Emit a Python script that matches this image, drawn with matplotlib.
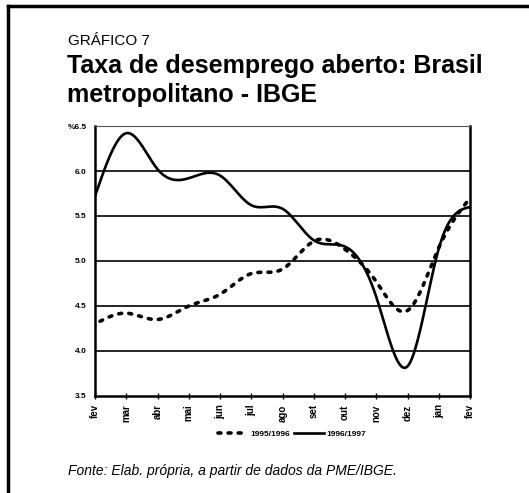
import numpy as np
import matplotlib
matplotlib.use('Agg')
import matplotlib.pyplot as plt
from matplotlib.lines import Line2D

plt.rcParams['font.family'] = ['Liberation Sans', 'DejaVu Sans']

months = ['fev', 'mar', 'abr', 'mai', 'jun', 'jul', 'ago', 'set', 'out',
          'nov', 'dez', 'jan', 'fev']
serie_9596 = [4.30, 4.42, 4.35, 4.50, 4.63, 4.86, 4.91, 5.22, 5.13, 4.77,
              4.45, 5.15, 5.70]
serie_9697 = [5.72, 6.42, 6.02, 5.92, 5.95, 5.62, 5.58, 5.23, 5.16, 4.60,
              3.83, 5.14, 5.60]
yticks = [3.5, 4.0, 4.5, 5.0, 5.5, 6.0, 6.5]
ylabels = ['3.5', '4.0', '4.5', '5.0', '5.5', '6.0', '%6.5']


def smooth(x, y, n=300):
    # natural cubic spline, like a "smoothed line" in a spreadsheet
    x = np.asarray(x, float)
    y = np.asarray(y, float)
    k = len(x)
    h = np.diff(x)
    A = np.zeros((k, k))
    b = np.zeros(k)
    A[0, 0] = A[-1, -1] = 1.0
    for i in range(1, k - 1):
        A[i, i - 1] = h[i - 1]
        A[i, i] = 2 * (h[i - 1] + h[i])
        A[i, i + 1] = h[i]
        b[i] = 6 * ((y[i + 1] - y[i]) / h[i] - (y[i] - y[i - 1]) / h[i - 1])
    M = np.linalg.solve(A, b)
    xs = np.linspace(x[0], x[-1], n)
    j = np.clip(np.searchsorted(x, xs) - 1, 0, k - 2)
    t0 = x[j + 1] - xs
    t1 = xs - x[j]
    hj = h[j]
    ys = (M[j] * t0 ** 3 + M[j + 1] * t1 ** 3) / (6 * hj) \
        + (y[j] / hj - M[j] * hj / 6) * t0 + (y[j + 1] / hj - M[j + 1] * hj / 6) * t1
    return xs, ys


fig = plt.figure(figsize=(5.29, 4.93), dpi=100)
ax = fig.add_axes([0.1796, 0.1968, 0.709, 0.5476])

x = np.arange(len(months))
xs, ys = smooth(x, serie_9596)
ax.plot(xs[4:], ys[4:], color='k', lw=2.6, ls=(0, (0.8, 2.0)),
        dash_capstyle='round', label='1995/1996')
xs, ys = smooth(x, serie_9697)
ax.plot(xs, ys, color='k', lw=1.9, label='1996/1997')

for v in yticks[1:-1]:
    ax.axhline(v, color='k', lw=1.2, zorder=0)

ax.set_xlim(0, len(months) - 1)
ax.set_ylim(3.5, 6.5)
ax.set_yticks(yticks)
ax.set_yticklabels(ylabels, fontsize=6, fontweight='bold')
ax.set_xticks(x)
ax.set_xticklabels(months, rotation=90, fontsize=7, fontweight='bold')
ax.tick_params(axis='y', length=0, pad=6)
ax.tick_params(axis='x', direction='inout', length=4, width=1, pad=4)

for s in ['left', 'right', 'bottom']:
    ax.spines[s].set_linewidth(1.8)
ax.spines['top'].set_linewidth(0.8)
ax.spines['top'].set_color('#555555')

fig.legend(loc='center', bbox_to_anchor=(292 / 529, 1 - 434 / 493), ncol=2,
           frameon=False, prop={'size': 6, 'weight': 'bold'},
           handlelength=3.6, handletextpad=0.3, columnspacing=0.4)

fig.text(68 / 529, 1 - 45 / 493, 'GRÁFICO 7', fontsize=11, va='baseline')
fig.text(67 / 529, 1 - 73 / 493, 'Taxa de desemprego aberto: Brasil',
         fontsize=18, fontweight='bold', va='baseline')
fig.text(67 / 529, 1 - 102 / 493, 'metropolitano - IBGE',
         fontsize=18, fontweight='bold', va='baseline')
fig.text(68 / 529, 1 - 475 / 493, 'Fonte: Elab. própria, a partir de dados da PME/IBGE.',
         fontsize=10, style='italic')

# frame of the scanned page
fig.add_artist(Line2D([8 / 529, 8 / 529], [0, 1 - 6 / 493], color='k', lw=2.5))
fig.add_artist(Line2D([8 / 529, 1], [1 - 6 / 493, 1 - 6 / 493], color='k', lw=2.5))

fig.savefig('out.png', dpi=100)
